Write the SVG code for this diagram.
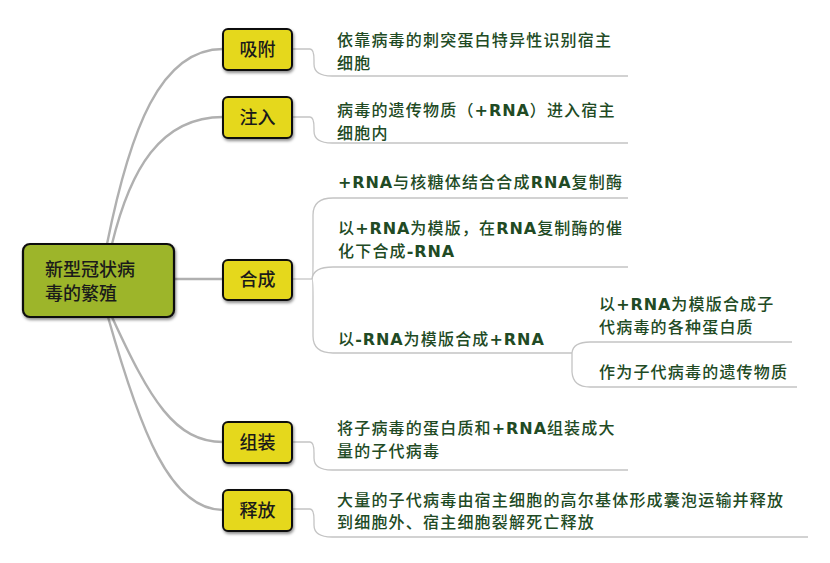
<svg xmlns="http://www.w3.org/2000/svg" width="830" height="563" viewBox="0 0 830 563">
<defs>
<filter id="sh" x="-20%" y="-20%" width="140%" height="150%">
<feDropShadow dx="1" dy="2" stdDeviation="1.5" flood-color="#000" flood-opacity="0.45"/>
</filter>
<style>
.root{fill:#9db52c;stroke:#111;stroke-width:2.2;}
.box{fill:#e5d81e;stroke:#111;stroke-width:2;}
.bt{font-family:"Noto Sans CJK SC",sans-serif;font-size:18px;fill:#1a1a1a;font-weight:500;}
.bc{text-anchor:middle;}
.d{font-family:"Noto Sans CJK SC",sans-serif;font-size:16px;fill:#214a24;font-weight:500;letter-spacing:1.2px;}
.b{font-family:"DejaVu Sans","Liberation Sans",sans-serif;font-weight:bold;letter-spacing:0.9px;}
.c1{fill:none;stroke:#b0b0b0;stroke-width:2.4;}
.c2{fill:none;stroke:#c4c4c4;stroke-width:1.3;}
</style>
</defs>
<rect width="830" height="563" fill="#fff"/>
<g id="connectors">
<path class="c1" d="M107,244 C130,130 160,49 223,49"/>
<path class="c1" d="M112,244 C130,170 160,117 223,117"/>
<path class="c1" d="M175,279 L223,279"/>
<path class="c1" d="M112,317 C150,400 175,442 223,442"/>
<path class="c1" d="M108,317 C140,430 170,510 223,510"/>
<path class="c2" d="M292,49 H310 Q314,49 314,60 V64 Q314,76 332,76 H628"/>
<path class="c2" d="M292,117 H310 Q314,117 314,128 V131 Q314,143 332,143 H628"/>
<path class="c2" d="M292,279 H312"/>
<path class="c2" d="M312,279 Q313,279 313,262 V215 Q313,198 333,198 H628"/>
<path class="c2" d="M312,279 Q313,267 333,267 H628"/>
<path class="c2" d="M312,279 Q313,279 313,296 V336 Q313,353 333,353 H572"/>
<path class="c2" d="M572,353 Q573,342 590,342 H792"/>
<path class="c2" d="M572,353 V372 Q573,387 590,387 H797"/>
<path class="c2" d="M292,442 H310 Q314,442 314,453 V458 Q314,470 332,470 H628"/>
<path class="c2" d="M292,509 H310 Q314,509 314,520 V525 Q314,537 332,537 H808"/>
</g>
<g id="root">
<rect class="root" x="23" y="244" width="151" height="73" rx="7" filter="url(#sh)"/>
<text class="bt" x="45" y="276">新型冠状病</text>
<text class="bt" x="45" y="300">毒的繁殖</text>
</g>
<g id="n-xifu">
<rect class="box" x="223" y="29" width="69" height="41" rx="5" filter="url(#sh)"/>
<text class="bt bc" x="257.5" y="56">吸附</text>
</g>
<g id="n-zhuru">
<rect class="box" x="223" y="97" width="69" height="41" rx="5" filter="url(#sh)"/>
<text class="bt bc" x="257.5" y="124">注入</text>
</g>
<g id="n-hecheng">
<rect class="box" x="223" y="260" width="69" height="40" rx="5" filter="url(#sh)"/>
<text class="bt bc" x="257.5" y="286">合成</text>
</g>
<g id="n-zuzhuang">
<rect class="box" x="223" y="422" width="69" height="41" rx="5" filter="url(#sh)"/>
<text class="bt bc" x="257.5" y="449">组装</text>
</g>
<g id="n-shifang">
<rect class="box" x="223" y="490" width="69" height="41" rx="5" filter="url(#sh)"/>
<text class="bt bc" x="257.5" y="517">释放</text>
</g>
<g id="d-xifu">
<text class="d" x="337" y="46">依靠病毒的刺突蛋白特异性识别宿主</text>
<text class="d" x="337" y="69">细胞</text>
</g>
<g id="d-zhuru">
<text class="d" x="337" y="116">病毒的遗传物质（<tspan class="b">+RNA</tspan>）进入宿主</text>
<text class="d" x="337" y="139">细胞内</text>
</g>
<g id="d-hc1">
<text class="d" x="338" y="188"><tspan class="b">+RNA</tspan>与核糖体结合合成<tspan class="b">RNA</tspan>复制酶</text>
</g>
<g id="d-hc2">
<text class="d" x="338" y="234">以<tspan class="b">+RNA</tspan>为模版，在<tspan class="b">RNA</tspan>复制酶的催</text>
<text class="d" x="338" y="257">化下合成<tspan class="b">-RNA</tspan></text>
</g>
<g id="d-hc3">
<text class="d" x="338" y="345">以<tspan class="b">-RNA</tspan>为模版合成<tspan class="b">+RNA</tspan></text>
</g>
<g id="d-hc3a">
<text class="d" x="599" y="310">以<tspan class="b">+RNA</tspan>为模版合成子</text>
<text class="d" x="599" y="333">代病毒的各种蛋白质</text>
</g>
<g id="d-hc3b">
<text class="d" x="599" y="378">作为子代病毒的遗传物质</text>
</g>
<g id="d-zuzhuang">
<text class="d" x="337" y="434">将子病毒的蛋白质和<tspan class="b">+RNA</tspan>组装成大</text>
<text class="d" x="337" y="457">量的子代病毒</text>
</g>
<g id="d-shifang">
<text class="d" x="337" y="506">大量的子代病毒由宿主细胞的高尔基体形成囊泡运输并释放</text>
<text class="d" x="337" y="528">到细胞外、宿主细胞裂解死亡释放</text>
</g>
</svg>
